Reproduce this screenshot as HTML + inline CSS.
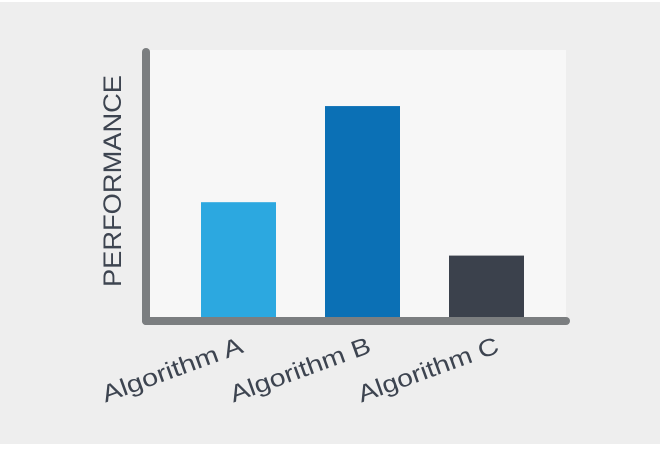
<!DOCTYPE html>
<html><head><meta charset="utf-8"><style>
html,body{margin:0;padding:0;background:#fff;}
svg{display:block;font-family:"Liberation Sans",sans-serif;}
</style></head><body>
<svg id="chart" width="660" height="450">
<rect x="0" y="2" width="660" height="442" fill="#eeeeee"/>
<rect x="150" y="50" width="416" height="267" fill="#f7f7f7"/>
<g id="bars"></g>
<line x1="146" y1="52" x2="146" y2="321" stroke="#7b7e80" stroke-width="8" stroke-linecap="round"/>
<line x1="146" y1="321" x2="566" y2="321" stroke="#7b7e80" stroke-width="8" stroke-linecap="round"/>
<text x="0" y="0" transform="translate(121,287) rotate(-90)" font-size="25" fill="#3d4450" textLength="212" lengthAdjust="spacingAndGlyphs">PERFORMANCE</text>
<g id="labels"></g>
</svg>
<script>
const categories = ["Algorithm A", "Algorithm B", "Algorithm C"];
const values = [43, 79, 23];
const colors = ["#2ca8e0", "#0b70b5", "#3b414c"];
const yMax = 100;
const plotTop = 50, plotBottom = 317;
const bandStart = 201, bandStep = 124, barW = 75;
function yScale(v){ return plotBottom - (v / yMax) * (plotBottom - plotTop); }
function xScale(i){ return bandStart + i * bandStep; }
const ns = "http://www.w3.org/2000/svg";
const bars = document.getElementById('bars');
const labels = document.getElementById('labels');
categories.forEach((c, i) => {
  const x = xScale(i);
  const r = document.createElementNS(ns, 'rect');
  r.setAttribute('x', x);
  r.setAttribute('y', yScale(values[i]));
  r.setAttribute('width', barW);
  r.setAttribute('height', plotBottom - yScale(values[i]));
  r.setAttribute('fill', colors[i]);
  
  
  bars.appendChild(r);
  const t = document.createElementNS(ns, 'text');
  const cx = x + barW / 2 + 6 + i * 4;
  t.setAttribute('transform', 'translate(' + cx + ',352) rotate(-20)');
  t.setAttribute('text-anchor', 'end');
  t.setAttribute('font-size', '24');
  t.setAttribute('textLength', '148');
  t.setAttribute('lengthAdjust', 'spacingAndGlyphs');
  t.setAttribute('fill', '#3d4450');
  t.textContent = c;
  
  
  labels.appendChild(t);
});
</script>
</body></html>
